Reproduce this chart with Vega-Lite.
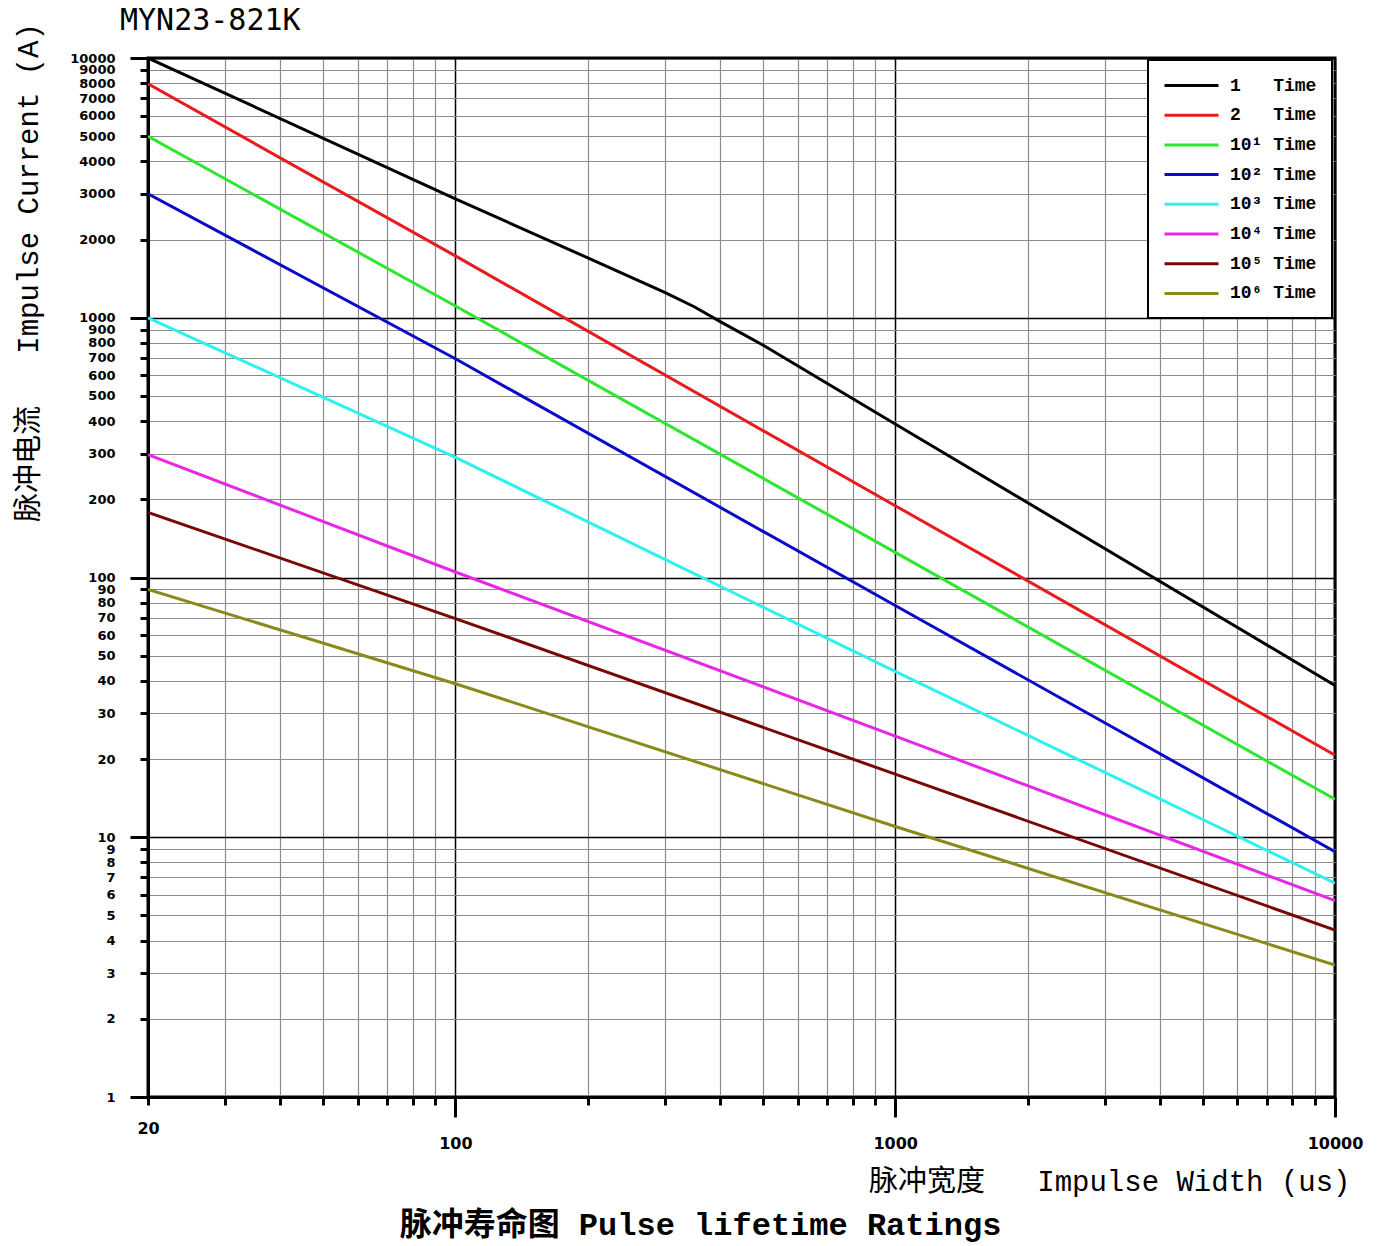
{
  "$schema": "https://vega.github.io/schema/vega-lite/v6.json",
  "width": 1187,
  "height": 1039,
  "autosize": {"type": "none"},
  "padding": {"left": 148, "top": 58, "right": 52, "bottom": 149},
  "background": "white",
  "title": {
    "text": "MYN23-821K",
    "anchor": "start",
    "frame": "group",
    "orient": "top",
    "offset": -13,
    "dx": -28,
    "font": "DejaVu Sans Mono",
    "fontSize": 30,
    "fontWeight": "normal",
    "color": "black"
  },
  "config": {
    "view": {"stroke": "black", "strokeWidth": 3},
    "legend": {"strokeWidth": 2}
  },
  "datasets": {
    "curves": [
      {"series": "1\u00a0\u00a0\u00a0Time", "width": 20, "current": 10000},
      {"series": "1\u00a0\u00a0\u00a0Time", "width": 100, "current": 2870},
      {"series": "1\u00a0\u00a0\u00a0Time", "width": 200, "current": 1700},
      {"series": "1\u00a0\u00a0\u00a0Time", "width": 300, "current": 1250},
      {"series": "1\u00a0\u00a0\u00a0Time", "width": 350, "current": 1100},
      {"series": "1\u00a0\u00a0\u00a0Time", "width": 400, "current": 966},
      {"series": "1\u00a0\u00a0\u00a0Time", "width": 500, "current": 785},
      {"series": "1\u00a0\u00a0\u00a0Time", "width": 1000, "current": 390},
      {"series": "1\u00a0\u00a0\u00a0Time", "width": 10000, "current": 38.4},
      {"series": "2\u00a0\u00a0\u00a0Time", "width": 20, "current": 7950},
      {"series": "2\u00a0\u00a0\u00a0Time", "width": 100, "current": 1730},
      {"series": "2\u00a0\u00a0\u00a0Time", "width": 1000, "current": 189},
      {"series": "2\u00a0\u00a0\u00a0Time", "width": 10000, "current": 20.7},
      {"series": "10\u00b9\u00a0Time", "width": 20, "current": 5000},
      {"series": "10\u00b9\u00a0Time", "width": 100, "current": 1110},
      {"series": "10\u00b9\u00a0Time", "width": 1000, "current": 125},
      {"series": "10\u00b9\u00a0Time", "width": 10000, "current": 14},
      {"series": "10\u00b2\u00a0Time", "width": 20, "current": 3000},
      {"series": "10\u00b2\u00a0Time", "width": 100, "current": 695},
      {"series": "10\u00b2\u00a0Time", "width": 1000, "current": 78},
      {"series": "10\u00b2\u00a0Time", "width": 10000, "current": 8.8},
      {"series": "10\u00b3\u00a0Time", "width": 20, "current": 1000},
      {"series": "10\u00b3\u00a0Time", "width": 100, "current": 290},
      {"series": "10\u00b3\u00a0Time", "width": 1000, "current": 43.5},
      {"series": "10\u00b3\u00a0Time", "width": 10000, "current": 6.65},
      {"series": "10\u2074\u00a0Time", "width": 20, "current": 297},
      {"series": "10\u2074\u00a0Time", "width": 100, "current": 105},
      {"series": "10\u2074\u00a0Time", "width": 1000, "current": 24.5},
      {"series": "10\u2074\u00a0Time", "width": 10000, "current": 5.7},
      {"series": "10\u2075\u00a0Time", "width": 20, "current": 178},
      {"series": "10\u2075\u00a0Time", "width": 100, "current": 69.5},
      {"series": "10\u2075\u00a0Time", "width": 1000, "current": 17.5},
      {"series": "10\u2075\u00a0Time", "width": 10000, "current": 4.39},
      {"series": "10\u2076\u00a0Time", "width": 20, "current": 90},
      {"series": "10\u2076\u00a0Time", "width": 100, "current": 39},
      {"series": "10\u2076\u00a0Time", "width": 1000, "current": 11},
      {"series": "10\u2076\u00a0Time", "width": 10000, "current": 3.22}
    ]
  },
  "layer": [
    {
      "data": {"name": "curves"},
      "mark": {"type": "line", "strokeWidth": 3, "clip": true},
      "encoding": {
        "x": {
          "field": "width",
          "type": "quantitative",
          "scale": {"type": "log", "domain": [20, 10000], "nice": false, "zero": false},
          "axis": {
            "orient": "bottom",
            "values": [20, 30, 40, 50, 60, 70, 80, 90, 100, 200, 300, 400, 500, 600, 700, 800, 900, 1000, 2000, 3000, 4000, 5000, 6000, 7000, 8000, 9000, 10000],
            "labelExpr": "indexof([20,100,1000,10000], datum.value) >= 0 ? format(datum.value, 'd') : ''",
            "labelFlush": false,
            "labelOverlap": false,
            "labelBound": false,
            "labelFont": "DejaVu Sans",
            "labelFontWeight": "bold",
            "labelFontSize": 16,
            "labelColor": "black",
            "labelPadding": {"condition": {"test": "datum.value == 20", "value": 15}, "value": 18},
            "tickSize": {"condition": {"test": "indexof([100,1000,10000], datum.value) >= 0", "value": 20}, "value": 8},
            "tickWidth": 3,
            "tickColor": "black",
            "domainColor": "black",
            "domainWidth": 3,
            "grid": true,
            "gridColor": {"condition": {"test": "indexof([100,1000,10000], datum.value) >= 0", "value": "black"}, "value": "#8c8c8c"},
            "gridWidth": {"condition": {"test": "indexof([100,1000,10000], datum.value) >= 0", "value": 1.5}, "value": 1.2},
            "title": "脉冲宽度\u00a0\u00a0\u00a0Impulse Width (us)",
            "titleFont": "Liberation Mono, Noto Sans CJK SC",
            "titleFontSize": 29,
            "titleFontWeight": "normal",
            "titleColor": "black",
            "titleX": 1202,
            "titleY": 84,
            "titleAlign": "right",
            "titleBaseline": "middle",
            "titleAngle": 0
          }
        },
        "y": {
          "field": "current",
          "type": "quantitative",
          "scale": {"type": "log", "domain": [1, 10000], "nice": false, "zero": false},
          "axis": {
            "values": [1, 2, 3, 4, 5, 6, 7, 8, 9, 10, 20, 30, 40, 50, 60, 70, 80, 90, 100, 200, 300, 400, 500, 600, 700, 800, 900, 1000, 2000, 3000, 4000, 5000, 6000, 7000, 8000, 9000, 10000],
            "labelExpr": "format(datum.value, 'd')",
            "labelFlush": false,
            "labelOverlap": false,
            "labelBound": false,
            "labelFont": "DejaVu Sans",
            "labelFontWeight": "bold",
            "labelFontSize": 13,
            "labelColor": "black",
            "tickSize": {"condition": {"test": "indexof([1,10,100,1000,10000], datum.value) >= 0", "value": 18}, "value": 8},
            "labelPadding": {"condition": {"test": "indexof([1,10,100,1000,10000], datum.value) >= 0", "value": 15}, "value": 25},
            "tickWidth": 3,
            "tickColor": "black",
            "domainColor": "black",
            "domainWidth": 3,
            "grid": true,
            "gridColor": {"condition": {"test": "indexof([1,10,100,1000,10000], datum.value) >= 0", "value": "black"}, "value": "#8c8c8c"},
            "gridWidth": {"condition": {"test": "indexof([1,10,100,1000,10000], datum.value) >= 0", "value": 1.5}, "value": 1.2},
            "title": "脉冲电流\u00a0\u00a0\u00a0Impulse Current (A)",
            "titleFont": "Liberation Mono, Noto Sans CJK SC",
            "titleFontSize": 29,
            "titleFontWeight": "normal",
            "titleColor": "black",
            "titleX": -120,
            "titleY": 214,
            "titleAlign": "center",
            "titleBaseline": "middle",
            "titleAngle": 270
          }
        },
        "color": {
          "field": "series",
          "type": "nominal",
          "scale": {
            "domain": ["1\u00a0\u00a0\u00a0Time", "2\u00a0\u00a0\u00a0Time", "10\u00b9\u00a0Time", "10\u00b2\u00a0Time", "10\u00b3\u00a0Time", "10\u2074\u00a0Time", "10\u2075\u00a0Time", "10\u2076\u00a0Time"],
            "range": ["#000000", "#e81c1c", "#2ee62e", "#0a0ac8", "#2ef0f0", "#e628e6", "#780808", "#8a8a1a"]
          },
          "legend": {
            "orient": "none",
            "legendX": 1000,
            "legendY": 2,
            "title": null,
            "symbolType": "M-1,0H5",
            "symbolSize": 324,
            "symbolStrokeWidth": 3,
            "labelFont": "Liberation Mono, DejaVu Sans Mono",
            "labelFontSize": 18,
            "labelFontWeight": "bold",
            "labelColor": "black",
            "labelOffset": 46,
            "padding": 15,
            "rowPadding": 9.7,
            "strokeColor": "black",
            "fillColor": "white"
          }
        }
      }
    },
    {
      "data": {"name": "curves"},
      "mark": {"type": "rule", "opacity": 0},
      "encoding": {
        "x": {
          "field": "width",
          "type": "quantitative",
          "scale": {"type": "log", "domain": [20, 10000], "nice": false, "zero": false},
          "axis": {
            "orient": "top",
            "domain": false,
            "ticks": false,
            "labels": false,
            "grid": false,
            "title": "脉冲寿命图 Pulse lifetime Ratings",
            "titleFont": "Liberation Mono, Noto Sans CJK SC",
            "titleFontSize": 32,
            "titleFontWeight": "bold",
            "titleColor": "black",
            "titleX": 552,
            "titleY": 1166,
            "titleAlign": "center",
            "titleBaseline": "middle",
            "titleAngle": 0
          }
        }
      }
    }
  ],
  "resolve": {"axis": {"x": "independent"}}
}
